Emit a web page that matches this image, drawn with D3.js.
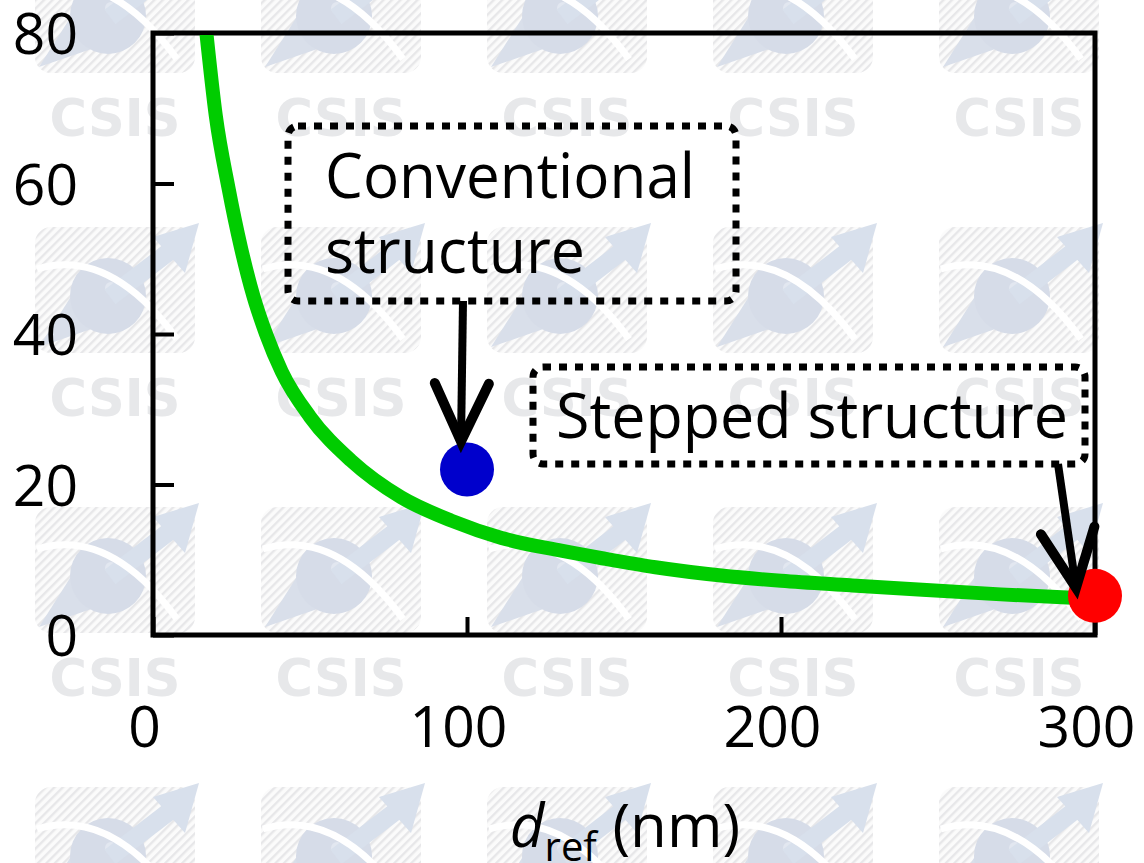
<!DOCTYPE html>
<html>
<head>
<meta charset="utf-8">
<script src="https://cdn.jsdelivr.net/npm/d3@7"></script>
<style>
  html, body { margin: 0; padding: 0; background: #ffffff; }
  svg { display: block; }
  text { font-family: "Open Sans", "Noto Sans", sans-serif; }
</style>
</head>
<body>
<svg id="chart" width="1144" height="863"></svg>
<script>
// Curve: d_ref (nm) vs. value
const curveX = [17, 20, 24, 28, 32, 36, 41, 50, 63, 79, 95, 111, 130, 143, 160, 181, 200, 222, 245, 270, 295];
const curveY = [80, 69, 59.5, 51.5, 45, 40, 35, 29, 23.2, 18.3, 15.2, 12.9, 11.2, 10.2, 9.0, 7.9, 7.2, 6.6, 6.0, 5.4, 4.9];

// Highlighted structures
const structureNames = ["Conventional structure", "Stepped structure"];
const structureX = [100, 300];
const structureY = [22, 5.2];
const structureColors = ["#0000cc", "#ff0000"];

// Axis ticks
const xTicks = [0, 100, 200, 300];
const yTicks = [0, 20, 40, 60, 80];

const pageW = 1144, pageH = 863;
const plotLeft = 153, plotRight = 1095, plotTop = 33, plotBottom = 635;

const svg = d3.select("#chart");
const defs = svg.append("defs");

// ---- background logo tiles ----
const hatch = defs.append("pattern")
  .attr("id", "hatch").attr("patternUnits", "userSpaceOnUse")
  .attr("width", 6).attr("height", 6)
  .attr("patternTransform", "rotate(45)");
hatch.append("rect").attr("width", 6).attr("height", 6).attr("fill", "#fbfbfb");
hatch.append("rect").attr("width", 2.4).attr("height", 6).attr("fill", "#e7e7e9");

const bg = svg.append("g").attr("class", "tiles");
const tileCols = d3.range(0, 5).map(i => 115 + 226 * i);
const tileRows = d3.range(0, 4).map(j => 117 + 280 * j);
tileRows.forEach(ty => {
  tileCols.forEach(cx => {
    const g = bg.append("g");
    g.append("rect")
      .attr("x", cx - 80).attr("y", ty - 170)
      .attr("width", 160).attr("height", 126).attr("rx", 16)
      .attr("fill", "url(#hatch)");
    // tail of the emblem
    g.append("path")
      .attr("d", `M${cx - 38},${ty - 110} L${cx - 12},${ty - 72} L${cx - 76},${ty - 50} Z`)
      .attr("fill", "#d9dfea");
    // globe
    g.append("circle").attr("cx", cx - 7).attr("cy", ty - 101).attr("r", 38).attr("fill", "#d6dce8");
    g.append("circle").attr("cx", cx - 4).attr("cy", ty - 109).attr("r", 6).attr("fill", "#e2e7f0");
    // arrow
    g.append("path")
      .attr("d", `M${cx - 5},${ty - 100} L${cx + 55},${ty - 146}`)
      .attr("stroke", "#d8e0ec").attr("stroke-width", 18);
    g.append("path")
      .attr("d", `M${cx + 84},${ty - 174} L${cx + 38},${ty - 160} L${cx + 70},${ty - 124} Z`)
      .attr("fill", "#d8e0ec");
    // white swoosh
    g.append("path")
      .attr("d", `M${cx - 78},${ty - 128} Q${cx - 5},${ty - 150} ${cx + 62},${ty - 58}`)
      .attr("fill", "none").attr("stroke", "#ffffff").attr("stroke-width", 7);
    // wordmark (only where it lands on the page)
    if (ty + 19 - 38 < pageH) {
      g.append("text")
        .attr("x", cx).attr("y", ty + 19)
        .attr("text-anchor", "middle")
        .style("font-family", "'DejaVu Sans', sans-serif")
        .style("font-weight", "bold")
        .style("font-size", "51px")
        .attr("fill", "#e7e8ea")
        .text("CSIS");
    }
  });
});

// ---- scales ----
const x = d3.scaleLinear().domain([0, 300]).range([plotLeft, plotRight]);
const y = d3.scaleLinear().domain([0, 80]).range([plotBottom, plotTop]);

// ---- axes (ticks point inward) ----
const xAxis = svg.append("g")
  .attr("transform", `translate(0,${plotBottom})`)
  .call(d3.axisBottom(x).tickValues(xTicks).tickSize(-18).tickPadding(72).tickFormat(d3.format("d")));
const yAxis = svg.append("g")
  .attr("transform", `translate(${plotLeft},0)`)
  .call(d3.axisLeft(y).tickValues(yTicks).tickSize(-21).tickPadding(75).tickFormat(d3.format("d")));

[xAxis, yAxis].forEach(a => {
  a.select(".domain").remove();
  a.selectAll(".tick line").attr("stroke", "#000").attr("stroke-width", 4);
  a.selectAll(".tick text")
    .attr("fill", "#000")
    .style("font-family", "'Open Sans', sans-serif")
    .style("font-size", "57px");
});
xAxis.selectAll(".tick text").attr("dx", -9);
yAxis.selectAll(".tick text").attr("dy", "0.36em");

// frame
svg.append("rect")
  .attr("x", plotLeft).attr("y", plotTop)
  .attr("width", plotRight - plotLeft).attr("height", plotBottom - plotTop)
  .attr("fill", "none").attr("stroke", "#000").attr("stroke-width", 5);

// ---- trend curve ----
defs.append("clipPath").attr("id", "plotClip")
  .append("rect").attr("x", plotLeft).attr("y", plotTop + 2)
  .attr("width", plotRight - plotLeft).attr("height", plotBottom - plotTop);

const line = d3.line()
  .x((d, i) => x(curveX[i]))
  .y((d, i) => y(curveY[i]))
  .curve(d3.curveMonotoneX);

svg.append("path")
  .datum(curveX)
  .attr("clip-path", "url(#plotClip)")
  .attr("d", line)
  .attr("fill", "none")
  .attr("stroke", "#00cc00")
  .attr("stroke-width", 14);

// ---- structure markers ----
svg.selectAll(".marker")
  .data(structureX)
  .join("circle")
  .attr("class", "marker")
  .attr("cx", d => x(d))
  .attr("cy", (d, i) => y(structureY[i]))
  .attr("r", 27)
  .attr("fill", (d, i) => structureColors[i]);

// ---- callouts ----
function callout(box, lines, arrowStart, arrowTip) {
  const g = svg.append("g");
  g.append("rect")
    .attr("x", box.x).attr("y", box.y)
    .attr("width", box.w).attr("height", box.h)
    .attr("rx", 10)
    .attr("fill", "none")
    .attr("stroke", "#000")
    .attr("stroke-width", 7)
    .attr("stroke-dasharray", "8 8");
  lines.forEach(l => {
    g.append("text")
      .attr("x", l.x).attr("y", l.y)
      .style("font-size", "62px")
      .attr("fill", "#000")
      .attr("textLength", l.len)
      .attr("lengthAdjust", "spacingAndGlyphs")
      .text(l.t);
  });
  // shaft
  g.append("line")
    .attr("x1", arrowStart[0]).attr("y1", arrowStart[1])
    .attr("x2", arrowTip[0]).attr("y2", arrowTip[1])
    .attr("stroke", "#000").attr("stroke-width", 8);
  // open chevron head
  const dx = arrowTip[0] - arrowStart[0], dy = arrowTip[1] - arrowStart[1];
  const len = Math.hypot(dx, dy);
  const ux = -dx / len, uy = -dy / len;
  const th = 25 * Math.PI / 180, L = 64;
  const rot = a => [ux * Math.cos(a) - uy * Math.sin(a), ux * Math.sin(a) + uy * Math.cos(a)];
  const p1 = rot(th), p2 = rot(-th);
  g.append("path")
    .attr("d", `M${arrowTip[0] + L * p1[0]},${arrowTip[1] + L * p1[1]} L${arrowTip[0]},${arrowTip[1]} L${arrowTip[0] + L * p2[0]},${arrowTip[1] + L * p2[1]}`)
    .attr("fill", "none").attr("stroke", "#000")
    .attr("stroke-width", 10)
    .attr("stroke-linecap", "round")
    .attr("stroke-linejoin", "miter");
}

const bx = x(structureX[0]), by = y(structureY[0]);
callout(
  { x: 288, y: 126, w: 448, h: 175 },
  [ { t: "Conventional", x: 325, y: 198, len: 370 },
    { t: "structure", x: 325, y: 273, len: 260 } ],
  [bx - 4, 301], [bx - 6, by - 28]
);

const rx = x(structureX[1]), ry = y(structureY[1]);
callout(
  { x: 533, y: 367, w: 552, h: 97 },
  [ { t: "Stepped structure", x: 556, y: 438, len: 512 } ],
  [1058, 464], [rx - 19, ry - 8]
);

// ---- x axis title ----
const title = svg.append("text")
  .attr("x", (plotLeft + plotRight) / 2 + 1)
  .attr("y", 847)
  .attr("text-anchor", "middle")
  .style("font-size", "60px")
  .attr("fill", "#000");
title.append("tspan").style("font-style", "italic").text("d");
title.append("tspan").style("font-size", "40px").attr("dy", 14).text("ref");
title.append("tspan").attr("dy", -14).text("\u00a0(nm)");
</script>
</body>
</html>
